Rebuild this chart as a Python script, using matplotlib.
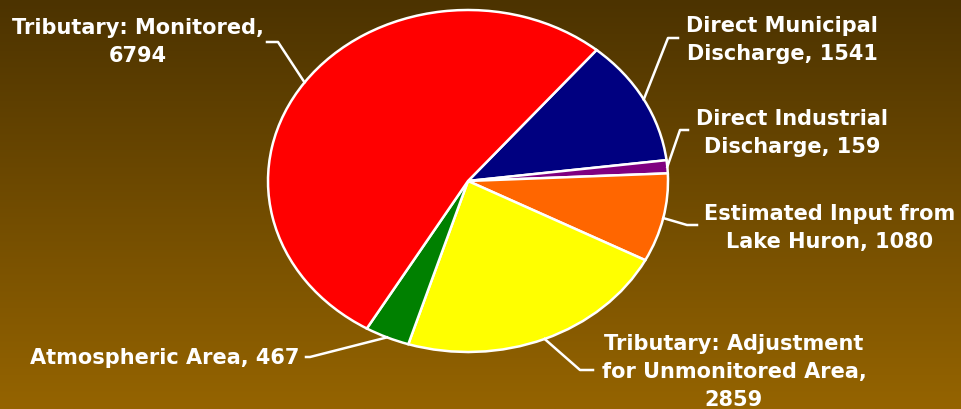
import numpy as np
import matplotlib.pyplot as plt

# loads by source, clockwise from the upper right
sources = ["Direct Municipal\nDischarge", "Direct Industrial\nDischarge",
           "Estimated Input from\nLake Huron", "Tributary: Adjustment\nfor Unmonitored Area",
           "Atmospheric Area", "Tributary: Monitored"]
loads = [1541, 159, 1080, 2859, 467, 6794]
colors = ["#000080", "#800080", "#FF6600", "#FFFF00", "#008000", "#FF0000"]
label_text = ["Direct Municipal\nDischarge, 1541", "Direct Industrial\nDischarge, 159",
              "Estimated Input from\nLake Huron, 1080",
              "Tributary: Adjustment\nfor Unmonitored Area,\n2859",
              "Atmospheric Area, 467", "Tributary: Monitored,\n6794"]

# label centres and leader stubs in pixels (origin top-left)
label_pos = [(782, 40), (792, 133), (830, 228), (734, 372), (165, 358), (138, 42)]
stubs = [[(678, 38), (668, 38)], [(688, 130), (680, 130)], [(697, 225), (687, 225)],
         [(593, 370), (580, 370)], [(306, 357), (310, 357)], [(267, 42), (278, 42)]]

W, H = 962, 409
fig = plt.figure(figsize=(W / 100, H / 100), dpi=100)

# brown vertical gradient background
bg = fig.add_axes([0, 0, 1, 1])
top = np.array([0x4c, 0x33, 0x00]) / 255
bot = np.array([0x95, 0x64, 0x00]) / 255
t = np.linspace(0, 1, 256)[:, None]
grad = top + (bot - top) * t
bg.imshow(grad[:, None, :].repeat(2, axis=1), aspect="auto", extent=[0, 1, 0, 1])
bg.set_axis_off()

cx, cy, rx, ry = 468, 181, 200, 171
ax = fig.add_axes([(cx - rx) / W, 1 - (cy + ry) / H, 2 * rx / W, 2 * ry / H])
wedges, _ = ax.pie(loads, colors=colors, startangle=50, counterclock=False,
                   wedgeprops=dict(edgecolor="white", linewidth=1.8))
ax.set_aspect("auto")
ax.set_xlim(-1, 1)
ax.set_ylim(-1, 1)


def to_fig(p):
    return p[0] / W, 1 - p[1] / H


for w, txt, pos, stub in zip(wedges, label_text, label_pos, stubs):
    mid = np.deg2rad((w.theta1 + w.theta2) / 2)
    edge = ax.transData.transform((np.cos(mid), np.sin(mid)))
    edge = fig.transFigure.inverted().transform(edge)
    pts = [to_fig(stub[0]), to_fig(stub[1]), tuple(edge)]
    xs, ys = zip(*pts)
    fig.add_artist(plt.Line2D(xs, ys, color="white", lw=1.8,
                              transform=fig.transFigure))
    fx, fy = to_fig(pos)
    fig.text(fx, fy, txt, color="white", fontsize=15, fontweight="bold",
             family="DejaVu Sans", ha="center", va="center",
             linespacing=1.5)

fig.savefig("out.png", dpi=100)
